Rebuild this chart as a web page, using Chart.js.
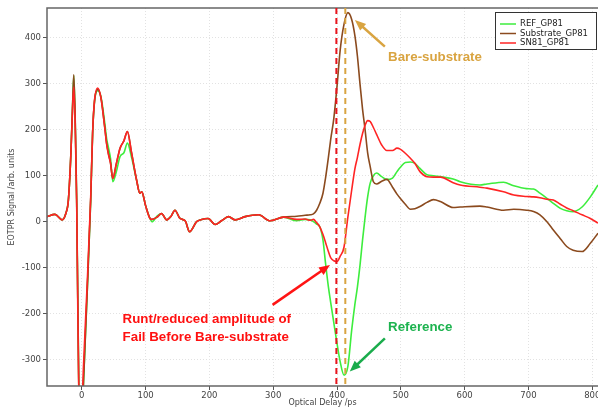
<!DOCTYPE html>
<html>
<head>
<meta charset="utf-8">
<script src="https://cdn.jsdelivr.net/npm/chart.js@4"></script>
<style>
  html, body { margin: 0; padding: 0; background: #fff; }
  #wrap { width: 598px; height: 408px; }
</style>
</head>
<body>
<div id="wrap"><canvas id="chart" width="598" height="408"></canvas></div>
<script>
// optical delay (ps), shared by all three traces
const delays = [-54.5, -42, -31, -25, -21, -17, -14, -12.5, -10, -8, -6, -3, 0, 2.5, 8, 14, 17, 20, 25, 30,
    36, 39, 42, 45, 48.6, 54, 60, 66, 71.5, 78, 86, 91, 94, 100, 107, 110, 118, 125, 133, 140,
    146, 154, 162, 169, 180, 188, 198, 209, 219, 230, 240, 256, 277, 295, 316, 337, 350, 358, 363, 368,
    373, 378, 382, 386.5, 390, 395, 399.7, 405, 411, 417, 423, 428, 432, 436, 440, 444, 448, 452, 457, 462,
    470, 478, 487, 494, 499, 507, 515, 522, 530, 541, 551, 562, 582, 593, 624, 635, 661, 677, 697, 708,
    718, 729, 739, 750, 760, 770, 784, 797, 809];

const refGP81 = [11, 16, 4, 18, 47, 150, 270, 318, 200, 47, -200, -480, -450, -357, -170, 47, 193, 262, 285, 272,
    215, 180, 160, 138, 87, 108, 142, 150, 171, 140, 90, 62, 65, 35, 7, 0, 12, 18, 4, 12,
    25, 7, 2, -22, 0, 5, 7, -6, 2, 11, 4, 11, 15, 2, 10, 2, 5, 4, 0, -5,
    -11, -40, -90, -142, -175, -220, -262, -305, -334, -315, -236, -180, -142, -95, -40, 10, 54, 84, 100, 106,
    98, 92, 95, 109, 118, 129, 130, 127, 116, 102, 100, 98, 93, 87, 80, 82, 86, 78, 72, 71,
    62, 51, 40, 29, 24, 22, 32, 54, 80];

const substrateGP81 = [11, 16, 4, 18, 47, 150, 270, 320, 205, 50, -200, -480, -450, -357, -170, 47, 193, 262, 288, 270,
    205, 170, 147, 128, 94, 125, 160, 176, 196, 150, 90, 62, 65, 35, 7, 5, 10, 18, 4, 12,
    25, 7, 2, -22, 0, 5, 7, -6, 2, 11, 4, 11, 15, 2, 10, 12, 14, 15, 17, 25,
    40, 62, 95, 140, 178, 225, 290, 374, 430, 455, 440, 405, 360, 300, 245, 200, 150, 120, 87, 82,
    88, 92, 75, 60, 51, 38, 27, 28, 33, 42, 48, 44, 31, 32, 34, 32, 25, 27, 25, 22,
    15, 0, -18, -37, -54, -62, -65, -47, -25];

const sn81GP81 = [11, 16, 4, 18, 47, 150, 262, 293, 190, 40, -220, -480, -420, -320, -150, 55, 195, 265, 291, 270,
    205, 168, 145, 128, 94, 125, 160, 176, 196, 150, 90, 62, 65, 35, 7, 5, 10, 18, 4, 12,
    25, 7, 2, -22, 0, 5, 7, -6, 2, 11, 4, 11, 15, 2, 10, 5, 6, 3, 5, -2,
    -11, -28, -45, -65, -78, -85, -87, -75, -55, 10, 69, 115, 140, 168, 192, 210, 220, 218, 205, 190,
    167, 155, 155, 160, 158, 149, 138, 127, 109, 98, 97, 97, 85, 80, 75, 73, 65, 58, 55, 54,
    52, 49, 47, 38, 30, 24, 15, 7, -3];

const seriesNames = ['REF_GP81', 'Substrate_GP81', 'SN81_GP81'];
const seriesColors = ['#3ded3d', '#8b4a1e', '#ff2424'];

const xTicks = [0, 100, 200, 300, 400, 500, 600, 700, 800];
const yTicks = [-300, -200, -100, 0, 100, 200, 300, 400];

// marker delays for the dashed lines
const failDelay = 399;
const substrateDelay = 413;

function pts(ys) {
    return delays.map((d, i) => ({ x: d, y: ys[i] }));
}

function arrow(ctx, x1, y1, x2, y2, color) {
    const ang = Math.atan2(y2 - y1, x2 - x1);
    const head = 11;
    ctx.save();
    ctx.strokeStyle = color;
    ctx.fillStyle = color;
    ctx.lineWidth = 2.5;
    ctx.beginPath();
    ctx.moveTo(x1, y1);
    ctx.lineTo(x2 - Math.cos(ang) * head * 0.8, y2 - Math.sin(ang) * head * 0.8);
    ctx.stroke();
    ctx.beginPath();
    ctx.moveTo(x2, y2);
    ctx.lineTo(x2 - head * Math.cos(ang) + 4.5 * Math.sin(ang), y2 - head * Math.sin(ang) - 4.5 * Math.cos(ang));
    ctx.lineTo(x2 - head * Math.cos(ang) - 4.5 * Math.sin(ang), y2 - head * Math.sin(ang) + 4.5 * Math.cos(ang));
    ctx.closePath();
    ctx.fill();
    ctx.restore();
}

const decor = {
    id: 'decor',
    afterDraw(chart) {
        const ctx = chart.ctx;
        const a = chart.chartArea;
        const xs = chart.scales.x, ys = chart.scales.y;
        const px = v => xs.getPixelForValue(v);
        const py = v => ys.getPixelForValue(v);

        // frame
        ctx.save();
        ctx.strokeStyle = '#666';
        ctx.lineWidth = 1.5;
        ctx.beginPath();
        ctx.moveTo(a.right + 2, a.top);
        ctx.lineTo(a.left, a.top);
        ctx.lineTo(a.left, a.bottom);
        ctx.lineTo(a.right + 2, a.bottom);
        ctx.stroke();
        ctx.restore();

        // dashed markers
        ctx.save();
        ctx.beginPath();
        ctx.rect(a.left, a.top, a.right - a.left, a.bottom - a.top);
        ctx.clip();
        ctx.lineWidth = 2;
        ctx.setLineDash([6, 4]);
        [[failDelay, '#e8141c'], [substrateDelay, '#d9a441']].forEach(([d, c]) => {
            ctx.strokeStyle = c;
            ctx.beginPath();
            ctx.moveTo(px(d), a.top);
            ctx.lineTo(px(d), a.bottom);
            ctx.stroke();
        });
        ctx.restore();

        // annotations
        arrow(ctx, px(475), py(381), px(428), py(439), '#d9a441');
        arrow(ctx, px(475), py(-254), px(420), py(-326), '#1aac4c');
        arrow(ctx, px(299), py(-181), px(389), py(-94), '#ff1414');

        ctx.save();
        ctx.font = 'bold 13.3px "Liberation Sans", Arial, sans-serif';
        ctx.textAlign = 'left';
        ctx.textBaseline = 'middle';
        ctx.fillStyle = '#d9a441';
        ctx.fillText('Bare-substrate', px(480), py(358));
        ctx.fillStyle = '#1db34f';
        ctx.fillText('Reference', px(480), py(-229));
        ctx.fillStyle = '#ff1010';
        ctx.fillText('Runt/reduced amplitude of', px(64), py(-212));
        ctx.fillText('Fail Before Bare-substrate', px(64), py(-251));
        ctx.restore();

        // legend box
        ctx.save();
        const bx = a.right - 103, by = a.top + 4, bw = 102, bh = 38;
        ctx.fillStyle = '#fff';
        ctx.fillRect(bx, by, bw, bh);
        ctx.strokeStyle = '#333';
        ctx.lineWidth = 1;
        ctx.strokeRect(bx + 0.5, by + 0.5, bw - 1, bh - 1);
        ctx.font = '8.5px "DejaVu Sans", sans-serif';
        ctx.textBaseline = 'middle';
        seriesNames.forEach((name, i) => {
            const ly = by + 12 + i * 9.5;
            ctx.strokeStyle = seriesColors[i];
            ctx.lineWidth = 1.5;
            ctx.beginPath();
            ctx.moveTo(bx + 5, ly);
            ctx.lineTo(bx + 21, ly);
            ctx.stroke();
            ctx.fillStyle = '#222';
            ctx.fillText(name, bx + 25, ly);
        });
        ctx.restore();

        // axis titles
        ctx.save();
        ctx.font = '8px "DejaVu Sans", sans-serif';
        ctx.fillStyle = '#444';
        ctx.textAlign = 'center';
        ctx.textBaseline = 'middle';
        ctx.fillText('Optical Delay /ps', (a.left + a.right) / 2, 403);
        ctx.translate(12, (a.top + a.bottom) / 2);
        ctx.rotate(-Math.PI / 2);
        ctx.fillText('EOTPR Signal /arb. units', 0, 0);
        ctx.restore();
    }
};

const ctx = document.getElementById('chart');
new Chart(ctx, {
    type: 'line',
    data: {
        datasets: [
            { label: seriesNames[0], data: pts(refGP81), borderColor: seriesColors[0], order: 2 },
            { label: seriesNames[1], data: pts(substrateGP81), borderColor: seriesColors[1], order: 1 },
            { label: seriesNames[2], data: pts(sn81GP81), borderColor: seriesColors[2], order: 0 }
        ]
    },
    options: {
        responsive: false,
        animation: false,
        layout: { padding: { top: 8, left: 0, right: 0, bottom: 0 } },
        elements: {
            point: { radius: 0 },
            line: { borderWidth: 1.6, cubicInterpolationMode: 'monotone', fill: false }
        },
        plugins: {
            legend: { display: false },
            tooltip: { enabled: false }
        },
        scales: {
            x: {
                type: 'linear',
                min: -54.5,
                max: 809,
                afterBuildTicks: (s) => { s.ticks = xTicks.map(v => ({ value: v })); },
                afterFit: (s) => { s.height = 22; s.paddingLeft = 0; s.paddingRight = 0; },
                grid: { color: '#e2e2e2', lineWidth: 1, tickLength: 4, tickColor: '#555', tickBorderDash: [] },
                border: { display: false, dash: [1, 2] },
                ticks: {
                    autoSkip: false, maxRotation: 0, padding: 1,
                    color: '#444', font: { family: 'DejaVu Sans', size: 8.5 }
                }
            },
            y: {
                min: -357.5,
                max: 465,
                afterBuildTicks: (s) => { s.ticks = yTicks.map(v => ({ value: v })); },
                afterFit: (s) => { s.width = 47; s.paddingTop = 0; s.paddingBottom = 0; },
                grid: { color: '#e2e2e2', lineWidth: 1, tickLength: 4, tickColor: '#555', tickBorderDash: [] },
                border: { display: false, dash: [1, 2] },
                ticks: {
                    autoSkip: false, padding: 2,
                    color: '#444', font: { family: 'DejaVu Sans', size: 8.5 }
                }
            }
        }
    },
    plugins: [decor]
});
</script>
</body>
</html>
